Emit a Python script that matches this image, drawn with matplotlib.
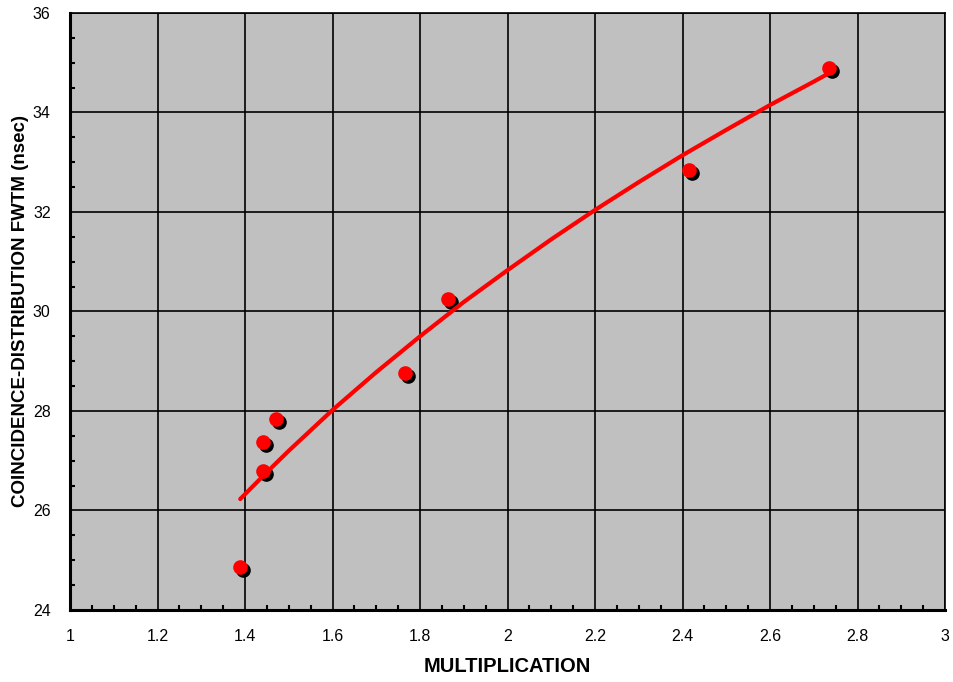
import numpy as np
import matplotlib.pyplot as plt
import matplotlib.transforms as mtransforms
from matplotlib.ticker import MultipleLocator

plt.rcParams['font.family'] = ['Liberation Sans', 'DejaVu Sans']

# measured points
mult = [1.389, 1.441, 1.441, 1.471, 1.766, 1.864, 2.415, 2.735]
fwtm = [24.86, 26.79, 27.38, 27.84, 28.76, 30.25, 32.84, 34.89]

# fitted trend line
fit_x = [1.389, 1.45, 1.5, 1.6, 1.7, 1.8, 1.9, 2.0, 2.1, 2.2, 2.3, 2.4, 2.5, 2.6, 2.7, 2.735]
fit_y = [26.23, 26.77, 27.20, 28.02, 28.78, 29.50, 30.19, 30.83, 31.45, 32.04, 32.60, 33.14, 33.65, 34.15, 34.62, 34.79]

xtick_labels = ['1', '1.2', '1.4', '1.6', '1.8', '2', '2.2', '2.4', '2.6', '2.8', '3']

fig = plt.figure(figsize=(9.54, 6.82), dpi=100)
ax = fig.add_axes([0.0734, 0.1056, 0.9172, 0.8754])
ax.set_facecolor('#C0C0C0')

ax.set_xlim(1, 3)
ax.set_ylim(24, 36)
ax.xaxis.set_minor_locator(MultipleLocator(0.05))
ax.yaxis.set_major_locator(MultipleLocator(2))
ax.yaxis.set_minor_locator(MultipleLocator(0.5))
ax.set_xticks(np.linspace(1, 3, len(xtick_labels)))
ax.set_xticklabels(xtick_labels)

ax.grid(True, which='major', color='black', linewidth=1.2)
ax.set_axisbelow(True)
ax.tick_params(which='major', direction='in', length=0, labelsize=11.5, pad=14)
ax.tick_params(which='minor', direction='in', length=3.5, width=1.5)

for s in ax.spines.values():
    s.set_color('black')
    s.set_linewidth(1.2)
ax.spines['left'].set_linewidth(2.2)
ax.spines['bottom'].set_linewidth(2.2)

# shadow under the markers
shadow = mtransforms.offset_copy(ax.transData, fig=fig, x=3, y=-3, units='dots')
ax.plot(mult, fwtm, 'o', color='black', markersize=9.5, transform=shadow, zorder=3)
ax.plot(mult, fwtm, 'o', color='#FF0000', markersize=9.5, zorder=4)
ax.plot(fit_x, fit_y, '-', color='#FF0000', linewidth=3, solid_capstyle='round', zorder=5)

ax.set_xlabel('MULTIPLICATION', fontsize=14.5, fontweight='bold', labelpad=9)
ax.set_ylabel('COINCIDENCE-DISTRIBUTION FWTM (nsec)', fontsize=13.5, fontweight='bold', labelpad=3)

fig.savefig('out.png', dpi=100)
